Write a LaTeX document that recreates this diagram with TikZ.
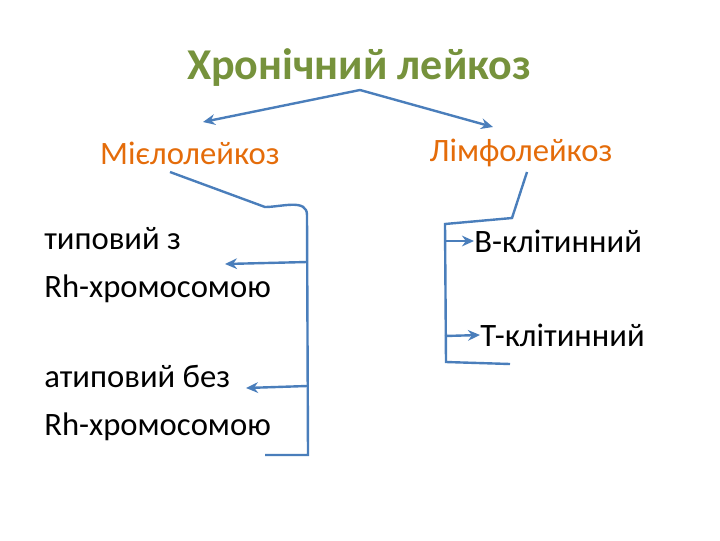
\documentclass[tikz,border=0pt]{standalone}
\usepackage{fontspec}
\setmainfont{Carlito}
\usetikzlibrary{arrows.meta}
\definecolor{olive}{HTML}{76923C}
\definecolor{orng}{HTML}{E46C0A}
\definecolor{lnblue}{HTML}{4A7EBB}
\tikzset{conn/.style={draw=lnblue,line width=1.8pt},
 arr/.style={conn,-{Stealth[length=9pt,width=8pt]}},
 txt/.style={inner sep=0pt,font=\fontsize{24.5pt}{36pt}\selectfont,align=left,anchor=west}}
\begin{document}
\begin{tikzpicture}[x=0.75pt,y=-0.75pt]
\useasboundingbox (0,0) rectangle (720,540);
\node[inner sep=0pt,text=olive,font=\fontsize{33pt}{38pt}\selectfont\bfseries] (t) at (359,68) {Хронічний лейкоз};
\node[inner sep=0pt,text=orng,font=\fontsize{24.5pt}{28pt}\selectfont] (m) at (190,153) {Мієлолейкоз};
\node[inner sep=0pt,text=orng,font=\fontsize{24.5pt}{28pt}\selectfont] (l) at (521,153) {Лімфолейкоз};
\node[txt] (a) at (44,265) {типовий з\\Rh-хромосомою};
\node[txt] (b) at (44,403) {атиповий без\\Rh-хромосомою};
\node[txt] (c) at (474,241) {В-клітинний};
\node[txt] (d) at (480,335) {Т-клітинний};
\coordinate (top) at (360,90);
\draw[arr] (top) -- (203,122);
\draw[arr] (top) -- (493,127);
\coordinate (m0) at (170,172);
\coordinate (m1) at (265,207);
\coordinate (m2) at (307,215);
\coordinate (m3) at (308,455);
\coordinate (m4) at (265,455);
\draw[conn] (m0) -- (m1) to[out=0,in=90] (m2) -- (m3) -- (m4);
\coordinate (ma) at (307,262);
\coordinate (mb) at (307,386);
\coordinate (ae) at (225,264);
\coordinate (be) at (246,388);
\draw[arr] (ma) -- (ae);
\draw[arr] (mb) -- (be);
\coordinate (l0) at (527,172);
\coordinate (l1) at (512,218);
\coordinate (l2) at (445,224);
\coordinate (l3) at (446,362);
\coordinate (l4) at (510,364);
\draw[conn] (l0) -- (l1) -- (l2) -- (l3) -- (l4);
\draw[arr] (445,241) -- (c.west);
\draw[arr] (445,336) -- (d.west);
\end{tikzpicture}
\end{document}
